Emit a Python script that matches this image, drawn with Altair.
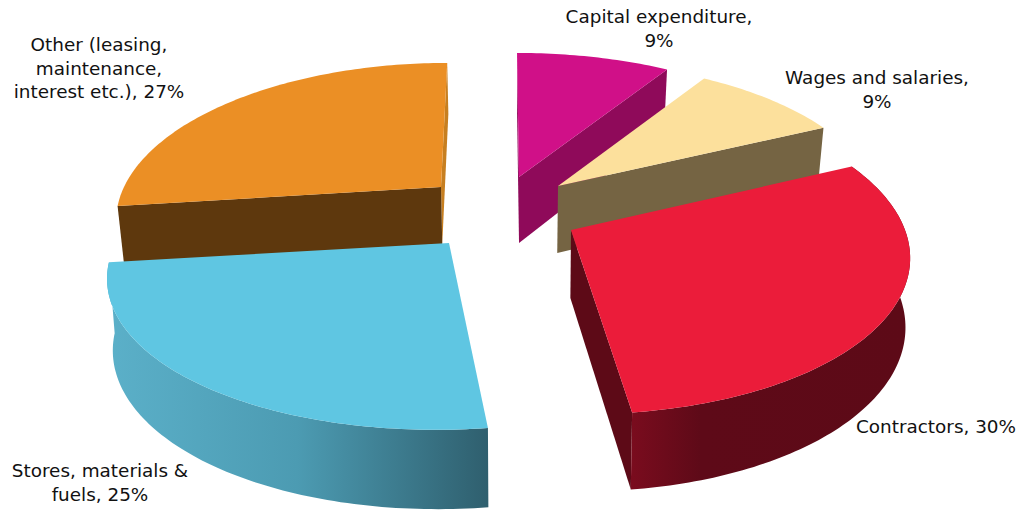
import math
import altair as alt

# Share of spend by category, clockwise from twelve o'clock
categories = ["Capital expenditure", "Wages and salaries", "Contractors",
              "Stores, materials & fuels", "Other (leasing, maintenance, interest etc.)"]
shares = [9, 9, 30, 25, 27]

top_colors = ["#D01088", "#FCE09C", "#EB1C3A", "#5FC6E2", "#EB8F25"]
cut_colors = ["#8F0A5A", "#756443", "#5D0A17", None, "#5E380D"]

label_lines = [
    ["Capital expenditure,", "9%"],
    ["Wages and salaries,", "9%"],
    ["Contractors, 30%"],
    ["Stores, materials &", "fuels, 25%"],
    ["Other (leasing,", "maintenance,", "interest etc.), 27%"],
]
label_anchor = [(659, 17), (877, 78), (936, 427), (100, 471), (99, 45)]
LINE_STEP = 23.5

# Exploded slice geometry: apex, radii, perspective, skew, wall height and lean
apex = [(519, 177), (558, 186), (571, 230), (449, 243), (441, 187)]
radius_x = [326, 318, 334, 333, 317]
radius_y = [148.5, 148.5, 158, 150, 148.5]
foreshorten = [0.197, 0.197, 0.142, 0.197, 0.197]
skew = [0.016, 0.0, 0.068, -0.07, -0.05]
wall = [66, 67, 68, 70, 57]
wall_shrink = [0.02, 0.02, 0.012, 0.014, 0.016]

WALL_GROWTH = 0.05    # walls get taller towards the viewer
VANISH_X = 520        # walls lean towards this column

# Slice boundaries in degrees, accumulated from the shares
edges = [0.0]
for s in shares:
    edges.append(edges[-1] + s * 3.6)


def rim(i, deg):
    t = math.radians(deg)
    d = 1 + foreshorten[i] * math.cos(t)
    y = -radius_y[i] * math.cos(t) / d
    x = radius_x[i] * math.sin(t) / d + skew[i] * y
    return (apex[i][0] + x, apex[i][1] + y)


def lower(i, p):
    dy = wall[i] + WALL_GROWTH * (p[1] - apex[i][1])
    return (p[0] - (p[0] - VANISH_X) * wall_shrink[i], p[1] + dy)


def arc_points(i, a, b):
    n = max(2, int(abs(b - a)))
    return [rim(i, a + (b - a) * k / n) for k in range(n + 1)]


def feature(i, ring):
    ring = [[round(x, 2), round(y, 2)] for x, y in ring]
    return {
        "type": "Feature",
        "properties": {"category": categories[i], "share": shares[i]},
        "geometry": {"type": "Polygon", "coordinates": [ring + [ring[0]]]},
    }


def top_face(i):
    return feature(i, [apex[i]] + arc_points(i, edges[i], edges[i + 1]))


def cut_face(i, deg):
    r = rim(i, deg)
    return feature(i, [apex[i], r, lower(i, r), lower(i, apex[i])])


def wall_face(i, a, b):
    pts = arc_points(i, a, b)
    return feature(i, pts + [lower(i, p) for p in reversed(pts)])


def shape(feat, fill):
    return (
        alt.Chart(alt.Data(values=[feat]))
        .mark_geoshape(fill=fill, stroke=None, strokeWidth=0)
        .project(type="identity", scale=1, translate=[0, 0])
    )


blue_wall = alt.Gradient(
    gradient="linear", x1=0, x2=1, y1=0, y2=0,
    stops=[
        alt.GradientStop(color="#5BB0C9", offset=0),
        alt.GradientStop(color="#4C9BB2", offset=0.5),
        alt.GradientStop(color="#2F5F6E", offset=1),
    ],
)
red_wall = alt.Gradient(
    gradient="linear", x1=0, x2=1, y1=0, y2=0,
    stops=[
        alt.GradientStop(color="#7A0C1E", offset=0),
        alt.GradientStop(color="#5E0A18", offset=0.25),
        alt.GradientStop(color="#5D0A17", offset=1),
    ],
)

# Painted back to front so nearer slices cover the walls behind them
layers = [
    shape(cut_face(0, edges[0]), cut_colors[0]),
    shape(cut_face(0, edges[1]), cut_colors[0]),
    shape(top_face(0), top_colors[0]),
    shape(cut_face(1, edges[2]), cut_colors[1]),
    shape(top_face(1), top_colors[1]),
    shape(cut_face(4, edges[5]), "#C77F20"),
    shape(cut_face(4, edges[4]), cut_colors[4]),
    shape(top_face(4), top_colors[4]),
    shape(wall_face(3, edges[3], edges[4]), blue_wall),
    shape(top_face(3), top_colors[3]),
    shape(cut_face(2, edges[3]), cut_colors[2]),
    shape(wall_face(2, edges[2], edges[3]), red_wall),
    shape(top_face(2), top_colors[2]),
]

label_rows = []
for lines, (lx, ly) in zip(label_lines, label_anchor):
    for n, line in enumerate(lines):
        label_rows.append({"text": line, "lx": lx, "ly": ly + n * LINE_STEP})

labels = (
    alt.Chart(alt.Data(values=label_rows))
    .mark_text(font="DejaVu Sans", fontSize=18.4, color="#111111", align="center", baseline="middle")
    .encode(
        x=alt.X("lx:Q", scale=None),
        y=alt.Y("ly:Q", scale=None),
        text="text:N",
    )
)

chart = (
    alt.layer(*layers, labels)
    .properties(width=1021, height=513, padding=0, background="white",
                autosize=alt.AutoSizeParams(type="none"))
    .configure_view(stroke=None)
)

chart.save("out.html", embed_options={"renderer": "svg", "actions": False})
